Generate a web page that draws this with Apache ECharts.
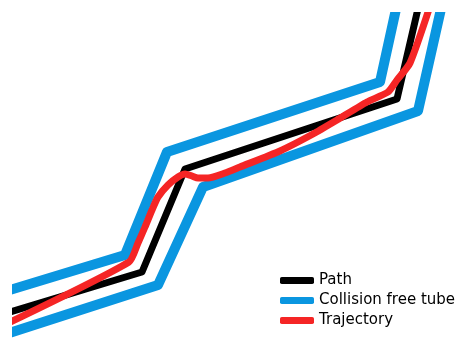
<!DOCTYPE html>
<html>
<head>
<meta charset="utf-8">
<script src="https://cdn.jsdelivr.net/npm/echarts@6/dist/echarts.min.js"></script>
<style>
  html, body { margin: 0; padding: 0; background: #fff; }
  #chart { width: 459px; height: 338px; }
</style>
</head>
<body>
<div id="chart"></div>
<script>
// points (x to the right, y downward)
const pathPts = [[0, 315], [142, 272], [185, 169], [397, 99], [420, 0]];
const tubeUpperPts = [[0, 293], [125, 255], [167, 152], [380, 82], [398, 0]];
const tubeLowerPts = [[0, 336], [158, 285], [203, 187], [418, 111], [443, 0]];
const trajectoryPts = [
  [0, 327], [129, 262], [138, 243], [145, 227], [152, 210], [158, 197],
  [168, 185], [178, 177], [185, 174], [192, 176], [198, 178], [208, 178],
  [225, 173], [240, 167], [280, 151], [313, 134], [337, 120], [367, 102],
  [388, 92], [397, 80], [410, 63], [432, 0]
];
const legendNames = ['Path', 'Collision free tube', 'Trajectory'];

const chart = echarts.init(document.getElementById('chart'));

function lineSeries(name, data, color, width, smooth) {
  return {
    name,
    type: 'line',
    data,
    color,
    smooth: smooth || false,
    showSymbol: false,
    symbol: 'none',
    lineStyle: { color, width, join: 'round', cap: 'butt' },
  };
}

const option = {
  animation: false,
  grid: { left: 12, right: 12, top: 12, bottom: 0 },
  xAxis: { type: 'value', min: 12, max: 447, show: false },
  yAxis: { type: 'value', min: 12, max: 338, inverse: true, show: false },
  // white margins hide the line ends outside the axes box
  graphic: [
    { type: 'rect', left: 0, top: 0, z: 50, shape: { width: 12, height: 338 }, style: { fill: '#fff' } },
    { type: 'rect', left: 0, top: 0, z: 50, shape: { width: 459, height: 12 }, style: { fill: '#fff' } },
  ],
  legend: {
    data: legendNames,
    orient: 'vertical',
    left: 275,
    top: 268,
    z: 60,
    icon: 'roundRect',
    itemWidth: 34,
    itemHeight: 7,
    itemGap: 5,
    textStyle: { fontFamily: 'DejaVu Sans', fontSize: 15, color: '#000' },
  },
  series: [
    lineSeries('Collision free tube', tubeUpperPts, '#0a96e0', 10),
    lineSeries('Collision free tube', tubeLowerPts, '#0a96e0', 10),
    lineSeries('Path', pathPts, '#000000', 7),
    lineSeries('Trajectory', trajectoryPts, '#f52525', 7, 0.2),
  ],
};

chart.setOption(option);
</script>
</body>
</html>
